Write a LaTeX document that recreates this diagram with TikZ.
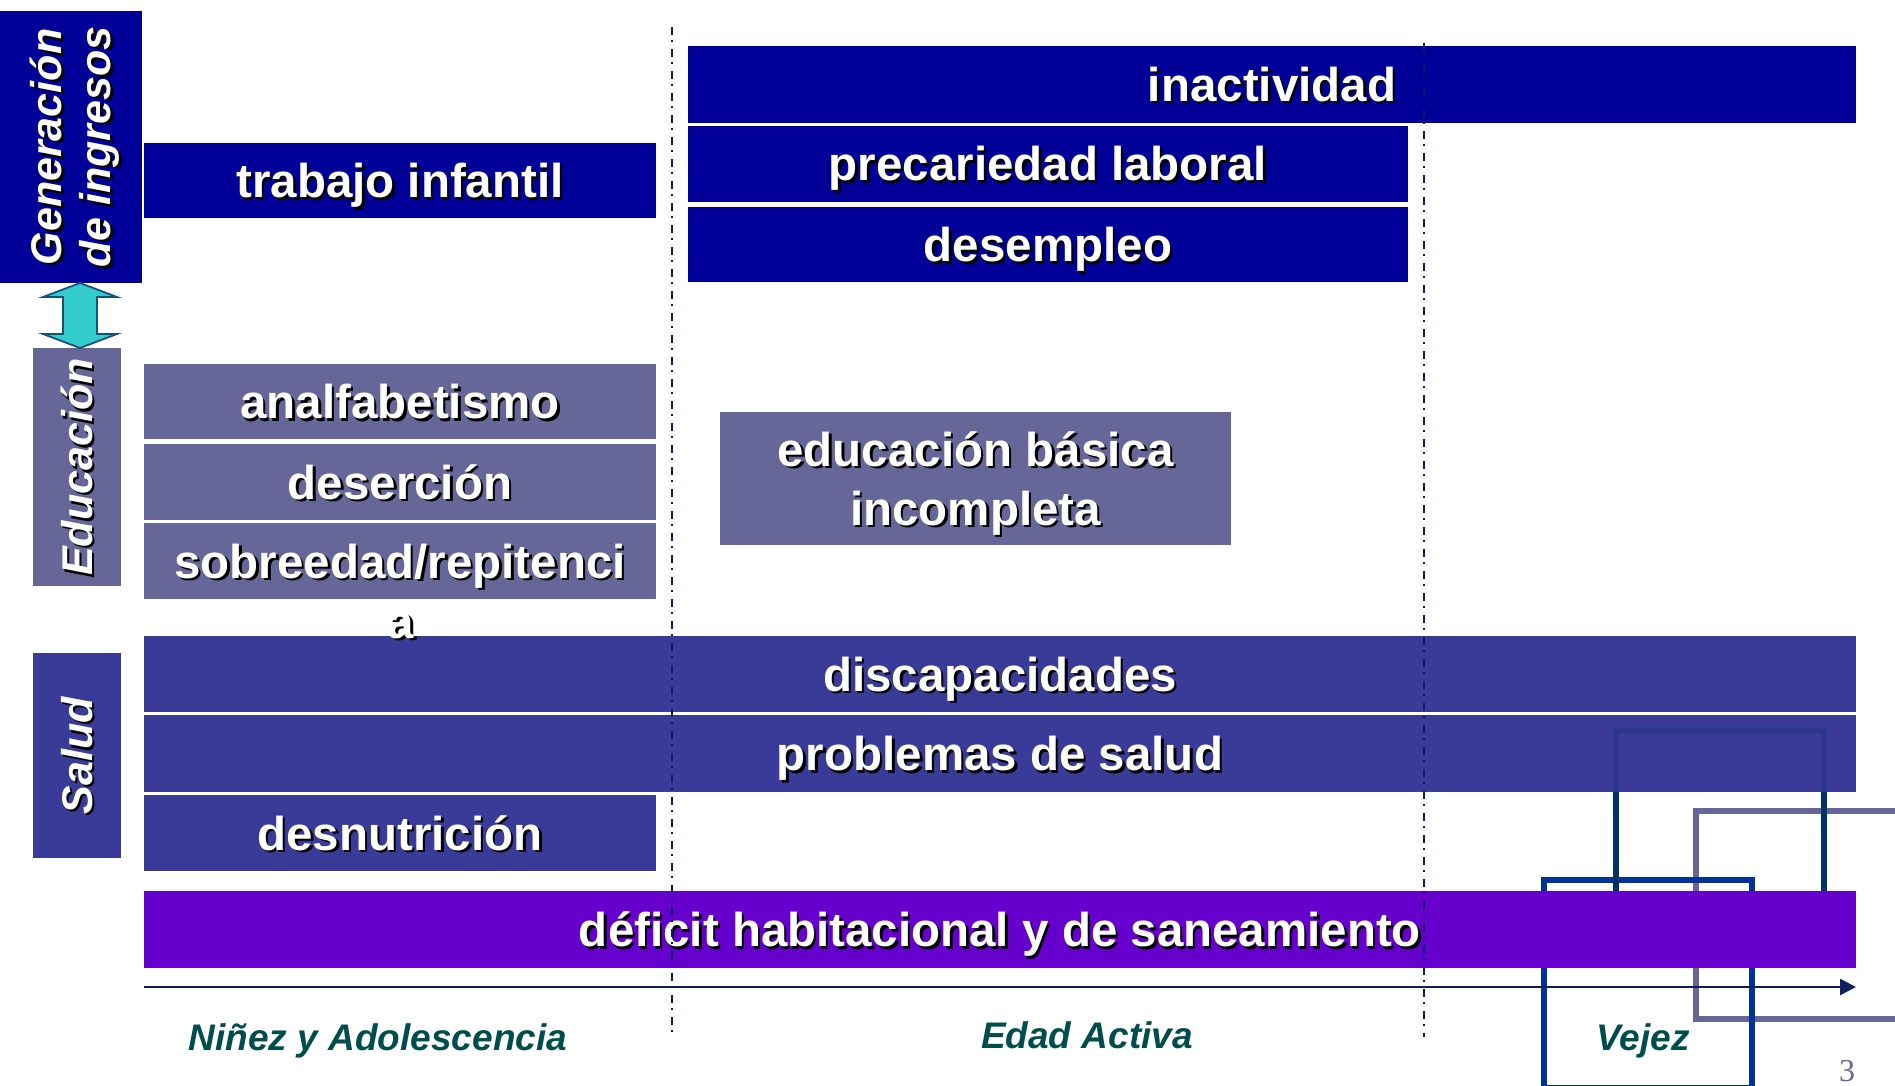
\documentclass[tikz,border=0pt]{standalone}
\usepackage{fontspec}
\setmainfont{Liberation Sans}
\newfontfamily\pgserif{Liberation Serif}
\usetikzlibrary{arrows.meta,calc}
\definecolor{navyA}{HTML}{000099}
\definecolor{eduC}{HTML}{666699}
\definecolor{salC}{HTML}{3A3A99}
\definecolor{defC}{HTML}{6600CC}
\definecolor{cyanA}{HTML}{33CCCC}
\definecolor{cyanO}{HTML}{17517A}
\definecolor{dashC}{HTML}{002060}
\definecolor{axisC}{HTML}{0D1F5E}
\definecolor{tealC}{HTML}{004D4D}
\definecolor{sqOne}{HTML}{003366}
\definecolor{sqTwo}{HTML}{666699}
\definecolor{sqThree}{HTML}{003399}
\newcommand\txsh[1]{\makebox[0pt][l]{\kern2.5pt\raisebox{-2.5pt}{\color{black}#1}}#1}
\newcommand\txshr[1]{\makebox[0pt][l]{\kern-2.5pt\raisebox{-2.5pt}{\color{black}#1}}#1}
\tikzset{
  bx/.style={rectangle, inner sep=0pt, outer sep=0pt, text=white,
    font={\fontsize{47.5}{59}\selectfont\bfseries}, text height=34pt, text depth=0pt},
  vlab/.style={rectangle, inner sep=0pt, outer sep=0pt, text=white, rotate=90,
    font={\fontsize{43}{49}\selectfont\bfseries\itshape}, text height=30.5pt, text depth=0pt},
  btm/.style={inner sep=0pt, anchor=base, text=tealC,
    font={\fontsize{37}{44}\selectfont\bfseries\itshape}},
  dashdot/.style={draw=dashC, line width=2.4pt, dash pattern=on 8pt off 5pt on 2pt off 7pt},
  axisline/.style={draw=axisC, line width=2.5pt, -{Triangle[length=16pt,width=16pt]}},
  dblarrow/.style={fill=cyanA, draw=cyanO, line width=1.8pt, line join=miter},
  sqline/.style={line width=6pt}
}
\begin{document}
\begin{tikzpicture}[x=1pt,y=-1pt]
\useasboundingbox (0,0) rectangle (1895,1086);
\clip (0,0) rectangle (1895,1086);
\fill[white] (0,0) rectangle (1895,1086);

% decorative squares (under bars)
\draw[sqline, draw=sqTwo] (1696,811) rectangle (1910,1019);
\draw[sqline, draw=sqThree] (1544,880) rectangle (1752,1088);
\draw[sqline, draw=sqOne] (1616,731) rectangle (1824,939);

% category labels (rotated: node west = screen bottom, node east = screen top)
\node[vlab, fill=navyA, minimum width=272pt, minimum height=142pt, text height=79.5pt] (gen) at (71,147)
  {\begin{tabular}[b]{@{}c@{}}\txshr{Generación}\\\txshr{de ingresos}\end{tabular}};
\node[vlab, fill=eduC, minimum width=238pt, minimum height=88pt] (edu) at (77,467) {\txshr{Educación}};
\node[vlab, fill=salC, minimum width=205pt, minimum height=88pt] (sal) at (77,755.5) {\txshr{Salud}};

% income boxes
\node[bx, fill=navyA, minimum width=512pt, minimum height=75pt] (trab) at (400,180.5) {\txsh{trabajo infantil}};
\node[bx, fill=navyA, minimum width=1168pt, minimum height=77pt] (inac) at (1272,84.5) {\txsh{inactividad}};
\node[bx, fill=navyA, minimum width=720pt, minimum height=76pt] (prec) at (1048,164) {\txsh{precariedad laboral}};
\node[bx, fill=navyA, minimum width=720pt, minimum height=75pt] (desem) at (1048,244.5) {\txsh{desempleo}};

% education boxes
\node[bx, fill=eduC, minimum width=512pt, minimum height=75pt] (anal) at (400,401.5) {\txsh{analfabetismo}};
\node[bx, fill=eduC, minimum width=512pt, minimum height=76pt] (deser) at (400,482) {\txsh{deserción}};
\node[bx, fill=eduC, minimum width=512pt, minimum height=76pt] (sobre) at (400,561) {\txsh{sobreedad/repitenci}};
\node[bx, fill=eduC, minimum width=511pt, minimum height=133pt, text height=93pt] (ebas) at (975.5,478.5)
  {\begin{tabular}[b]{@{}c@{}}\txsh{educación básica}\\\txsh{incompleta}\end{tabular}};

% health boxes
\node[bx, fill=salC, minimum width=1712pt, minimum height=76pt] (disc) at (1000,674) {\txsh{discapacidades}};
\node[bx, fill=salC, minimum width=1712pt, minimum height=77pt] (prob) at (1000,753.5) {\txsh{problemas de salud}};
\node[bx, fill=salC, minimum width=512pt, minimum height=76pt] (desn) at (400,833) {\txsh{desnutrición}};

% overflow of the wrapped word
\node[bx, anchor=base, text height=25pt, minimum height=0pt] (sobrea) at (401,638) {\txsh{a}};

% housing
\node[bx, fill=defC, minimum width=1712pt, minimum height=77pt] (defi) at (1000,929.5) {\txsh{déficit habitacional y de saneamiento}};

% faint square outline seen through the health bar
\draw[sqline, draw=sqOne, opacity=0.25] (1616,891) -- (1616,731) -- (1824,731) -- (1824,891);

% double arrow between Generación and Educación
\coordinate (da1) at ($(gen.west)+(9,0)$);
\coordinate (da2) at (da1 |- edu.east);
\draw[dblarrow] (da1) -- ++(37,14) -- ++(-20,0) -- ($(da2)+(17,-14)$) -- ++(20,0) -- (da2)
  -- ++(-37,-14) -- ++(20,0) -- ($(da1)+(-17,14)$) -- ++(-20,0) -- cycle;

% time axis
\coordinate (ax0) at (144,987);
\coordinate (ax1) at (1856,987);
\draw[axisline] (ax0) -- (ax1);

% period separators
\coordinate (d1t) at (672,27);
\coordinate (d1b) at (672,1035);
\coordinate (d2t) at (1424,43);
\coordinate (d2b) at (1424,1037);
\draw[dashdot] (d1t) -- (d1b);
\draw[dashdot] (d2t) -- (d2b);

% period labels
\node[btm] (nin) at (378,1050) {Niñez y Adolescencia};
\node[btm] (act) at (1087,1048) {Edad Activa};
\node[btm] (vej) at (1643,1050) {Vejez};

% page number
\node[anchor=base, inner sep=0pt, text=eduC, font={\pgserif\fontsize{32}{38}\selectfont}] (pg) at (1847,1081) {3};
\end{tikzpicture}
\end{document}
